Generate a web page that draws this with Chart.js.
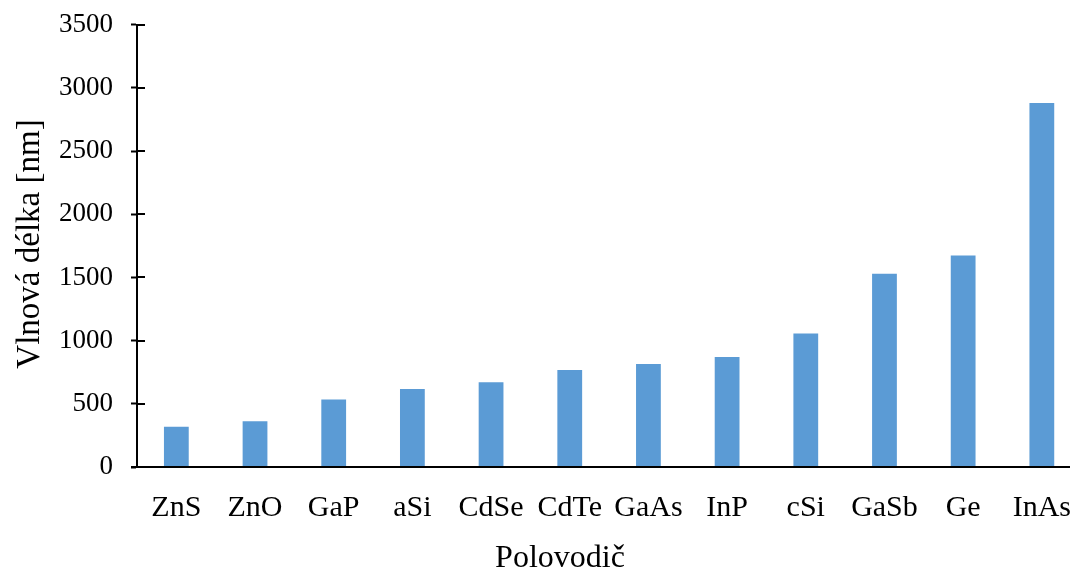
<!DOCTYPE html>
<html>
<head>
<meta charset="utf-8">
<script src="https://cdn.jsdelivr.net/npm/chart.js@4/dist/chart.umd.min.js"></script>
<style>
html,body{margin:0;padding:0;background:#fff;overflow:hidden;width:1070px;height:572px;}
canvas{display:block;}
</style>
</head>
<body>
<canvas id="c" width="1094" height="572"></canvas>
<script>
const categories = ['ZnS','ZnO','GaP','aSi','CdSe','CdTe','GaAs','InP','cSi','GaSb','Ge','InAs'];
const wavelengths = [318, 362, 535, 617, 670, 767, 815, 870, 1056, 1529, 1674, 2880];
const yTicks = [0, 500, 1000, 1500, 2000, 2500, 3000, 3500];
const xTitle = 'Polovodič';
const yTitle = 'Vlnová délka [nm]';

const FONT = "'Liberation Serif', 'Times New Roman', serif";

const axisDecor = {
  id: 'axisDecor',
  afterDraw(chart) {
    const ctx = chart.ctx;
    const y = chart.scales.y;
    const ca = chart.chartArea;
    ctx.save();
    ctx.strokeStyle = '#000';
    ctx.lineWidth = 2;
    yTicks.forEach(v => {
      const py = Math.round(y.getPixelForValue(v));
      ctx.beginPath();
      ctx.moveTo(ca.left, py);
      ctx.lineTo(ca.left + 8, py);
      ctx.stroke();
    });
    const p0 = Math.round(y.getPixelForValue(0));
    ctx.beginPath();
    ctx.moveTo(ca.left - 6, p0);
    ctx.lineTo(chart.width, p0);
    ctx.stroke();
    ctx.fillStyle = '#000';
    ctx.textAlign = 'center';
    ctx.textBaseline = 'alphabetic';
    ctx.font = '32px ' + FONT;
    ctx.fillText(xTitle, 560, 567);
    ctx.font = '33px ' + FONT;
    ctx.translate(39, 244);
    ctx.rotate(-Math.PI / 2);
    ctx.fillText(yTitle, 0, 0);
    ctx.restore();
  }
};

new Chart(document.getElementById('c'), {
  type: 'bar',
  data: {
    labels: categories,
    datasets: [{
      data: wavelengths,
      backgroundColor: '#5B9BD5',
      borderWidth: 0,
      barPercentage: 1,
      categoryPercentage: 0.315
    }]
  },
  options: {
    responsive: false,
    animation: false,
    layout: { padding: { left: 0, right: 0, top: 23, bottom: 0 } },
    plugins: { legend: { display: false }, tooltip: { enabled: false } },
    scales: {
      x: {
        grid: { display: false, drawTicks: false },
        border: { display: false },
        ticks: { color: '#000', font: { family: FONT, size: 30 }, padding: 23, maxRotation: 0, autoSkip: false },
        afterFit(s) { s.height = 105; }
      },
      y: {
        min: 0, max: 3500,
        afterBuildTicks(s) { s.ticks = yTicks.map(v => ({ value: v })); },
        grid: { display: true, drawOnChartArea: false, drawTicks: true, tickLength: 6, tickWidth: 2, tickColor: '#000' },
        border: { display: true, color: '#000', width: 2 },
        ticks: { color: '#000', font: { family: FONT, size: 27, lineHeight: 0.5 }, padding: 18, callback: v => String(v) },
        afterFit(s) { s.width = 137; }
      }
    }
  },
  plugins: [axisDecor]
});
</script>
</body>
</html>
